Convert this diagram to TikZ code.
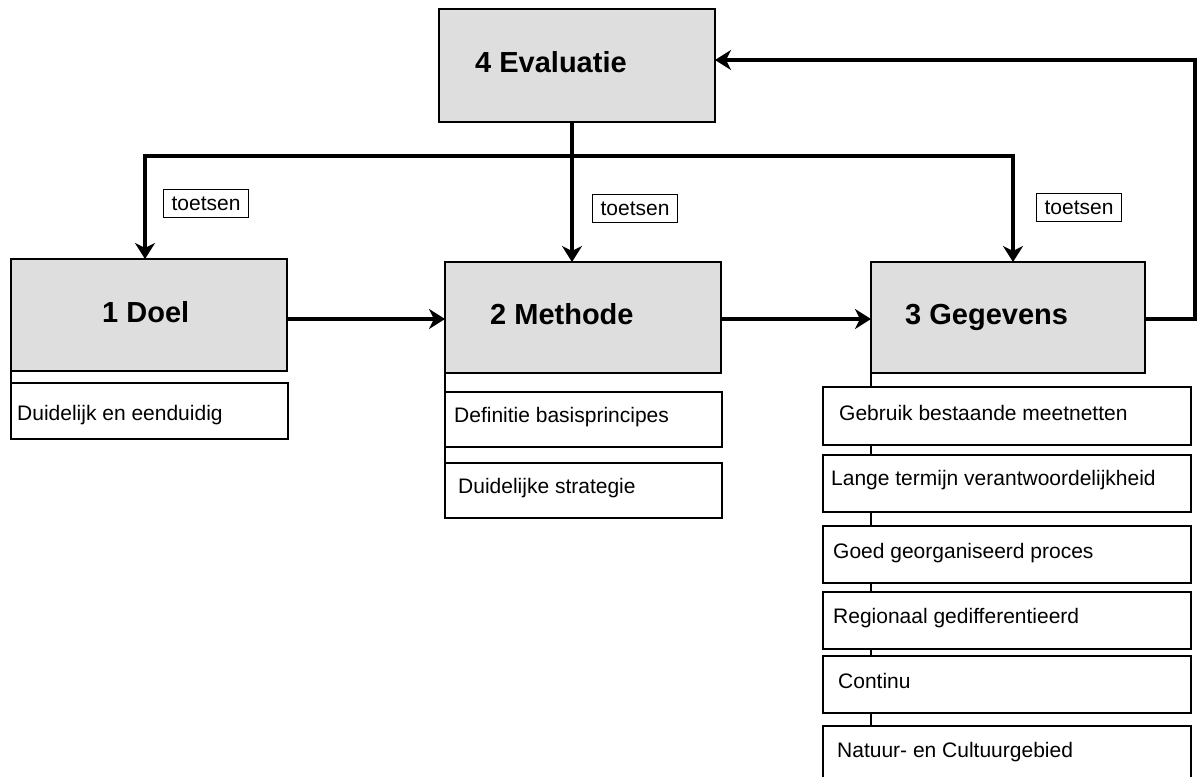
\documentclass[tikz,border=0pt]{standalone}
\usepackage{fontspec}
\setmainfont{Liberation Sans}
\usetikzlibrary{arrows.meta}
\definecolor{boxgray}{RGB}{222,222,222}
\begin{document}
\begin{tikzpicture}[x=1pt,y=-1pt,
  mainbox/.style={draw, line width=1.4pt, fill=boxgray, anchor=north west, inner sep=0pt, outer sep=0pt},
  subbox/.style={draw, line width=1.4pt, fill=white, anchor=north west, inner sep=0pt, outer sep=0pt},
  titletext/.style={font=\fontsize{29}{32}\selectfont\bfseries, anchor=base west, inner sep=0pt},
  subtext/.style={font=\fontsize{21}{24}\selectfont, anchor=base west, inner sep=0pt},
  tag/.style={draw, line width=1.1pt, fill=white, font=\fontsize{21}{24}\selectfont, anchor=north west, inner sep=0pt, minimum width=85pt, minimum height=28pt},
  bus/.style={line width=4.5pt},
  arr/.style={bus, -{Stealth[length=16pt,width=20pt,inset=5pt]}},
  link/.style={line width=1.4pt}
]
\useasboundingbox (0,0) rectangle (1198,776);

% main boxes
\node[mainbox, minimum width=276pt, minimum height=113pt] (eval) at (439,9) {};
\node[mainbox, minimum width=276pt, minimum height=112pt] (doel) at (11,259) {};
\node[mainbox, minimum width=276pt, minimum height=111pt] (meth) at (445,262) {};
\node[mainbox, minimum width=274pt, minimum height=111pt] (geg) at (871,262) {};

\node[titletext] (evalt) at (475,73) {4 Evaluatie};
\node[titletext] (doelt) at (102,322) {1 Doel};
\node[titletext] (metht) at (490,324) {2 Methode};
\node[titletext] (gegt) at (905,324) {3 Gegevens};

% sub boxes
\node[subbox, minimum width=277pt, minimum height=56pt] (d1) at (11,383) {};
\node[subbox, minimum width=277pt, minimum height=55pt] (m1) at (445,392) {};
\node[subbox, minimum width=277pt, minimum height=55pt] (m2) at (445,463) {};
\node[subbox, minimum width=368pt, minimum height=58pt] (g1) at (823,387) {};
\node[subbox, minimum width=368pt, minimum height=57pt] (g2) at (823,455) {};
\node[subbox, minimum width=368pt, minimum height=57pt] (g3) at (823,526) {};
\node[subbox, minimum width=368pt, minimum height=57pt] (g4) at (823,592) {};
\node[subbox, minimum width=368pt, minimum height=57pt] (g5) at (823,656) {};
\node[subbox, minimum width=368pt, minimum height=54pt] (g6) at (823,726) {};

\node[subtext] (d1t) at (17,420) {Duidelijk en eenduidig};
\node[subtext] (m1t) at (454,422) {Definitie basisprincipes};
\node[subtext] (m2t) at (458,493) {Duidelijke strategie};
\node[subtext] (g1t) at (839,420) {Gebruik bestaande meetnetten};
\node[subtext] (g2t) at (831,485) {Lange termijn verantwoordelijkheid};
\node[subtext] (g3t) at (833,558) {Goed georganiseerd proces};
\node[subtext] (g4t) at (833,623) {Regionaal gedifferentieerd};
\node[subtext] (g5t) at (838,688) {Continu};
\node[subtext] (g6t) at (837,757) {Natuur- en Cultuurgebied};

% thin links
\draw[link] (doel.south west) -- (d1.north west);
\draw[link] (meth.south west) -- (m1.north west);
\draw[link] (m1.south west) -- (m2.north west);
\draw[link] (geg.south west) -- (g1.north -| geg.south west);
\draw[link] (g1.south -| geg.south west) -- (g2.north -| geg.south west);
\draw[link] (g2.south -| geg.south west) -- (g3.north -| geg.south west);
\draw[link] (g3.south -| geg.south west) -- (g4.north -| geg.south west);
\draw[link] (g4.south -| geg.south west) -- (g5.north -| geg.south west);
\draw[link] (g5.south -| geg.south west) -- (g6.north -| geg.south west);

% toetsen labels
\node[tag] (t1) at (163,189) {toetsen};
\node[tag] (t2) at (592,194) {toetsen};
\node[tag] (t3) at (1036,193) {toetsen};

% bus and arrows
\coordinate (bus) at (572,156);
\coordinate (bl) at (145,156);
\coordinate (br) at (1013,156);
\coordinate (row) at (0,319);
\coordinate (fr) at (1195,60);

\draw[arr] (eval.south -| bus) -- (meth.north -| bus);
\draw[arr] (bus) -- (bl) -- (doel.north -| bl);
\draw[arr] (bus) -- (br) -- (geg.north -| br);
\draw[arr] (doel.east |- row) -- (meth.west |- row);
\draw[arr] (meth.east |- row) -- (geg.west |- row);
\draw[arr] (geg.east |- row) -| (fr) -- (eval.east |- fr);
\end{tikzpicture}
\end{document}
